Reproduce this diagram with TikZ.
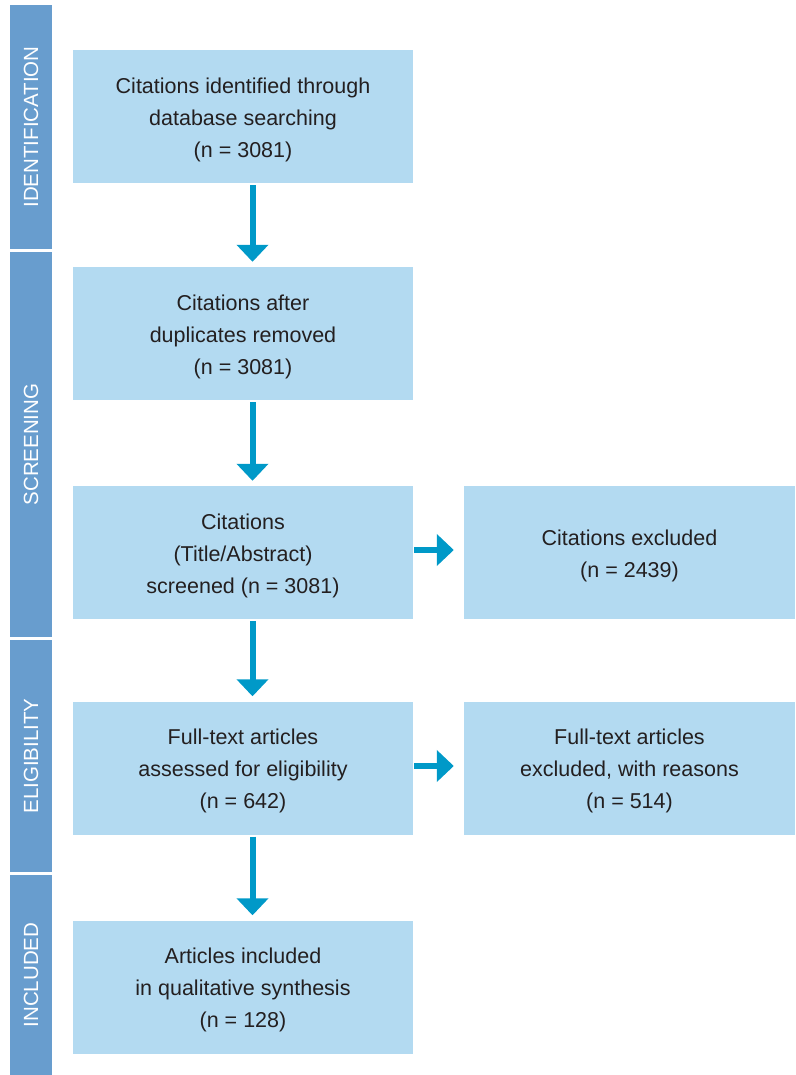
\documentclass[tikz,border=0pt]{standalone}
\usepackage{fontspec}
\setmainfont{Liberation Sans}
\usetikzlibrary{arrows.meta}
\definecolor{barblue}{RGB}{104,157,206}
\definecolor{boxblue}{RGB}{179,218,241}
\definecolor{arrblue}{RGB}{0,153,200}
\definecolor{txt}{RGB}{35,31,32}
\tikzset{
  stage/.style={fill=barblue, draw=none},
  stagelabel/.style={rotate=90, text=white, font=\fontsize{20.5}{24}\selectfont, inner sep=0pt},
  flowbox/.style={fill=boxblue, draw=none, inner sep=0pt, minimum width=340pt, minimum height=133pt},
  sidebox/.style={flowbox, minimum width=331pt},
  flowtext/.style={text=txt, align=center, inner sep=0pt, font=\fontsize{21.5}{32}\selectfont, yshift=-3pt},
  flowarrow/.style={draw=arrblue, line width=6pt, -{Triangle[width=31pt,length=17pt]}}
}
\begin{document}
\begin{tikzpicture}[x=1pt,y=-1pt]
\useasboundingbox (0,0) rectangle (795,1075);
% stage bars
\fill[stage] (10,5) rectangle (52,249);
\fill[stage] (10,252) rectangle (52,637);
\fill[stage] (10,640) rectangle (52,872);
\fill[stage] (10,875) rectangle (52,1075);
\node[stagelabel] (lid) at (31,127) {IDENTIFICATION};
\node[stagelabel] (lsc) at (31,444.5) {SCREENING};
\node[stagelabel] (lel) at (31,756) {ELIGIBILITY};
\node[stagelabel] (lin) at (31,975) {INCLUDED};
% boxes
\node[flowbox, label={[flowtext]center:Citations identified through\\database searching\\(n = 3081)}] (b1) at (243,116.5) {};
\node[flowbox, label={[flowtext]center:Citations after\\duplicates removed\\(n = 3081)}] (b2) at (243,333.5) {};
\node[flowbox, label={[flowtext]center:Citations\\(Title/Abstract)\\screened (n = 3081)}] (b3) at (243,552.5) {};
\node[flowbox, label={[flowtext]center:Full-text articles\\assessed for eligibility\\(n = 642)}] (b4) at (243,768) {};
\node[flowbox, label={[flowtext]center:Articles included\\in qualitative synthesis\\(n = 128)}] (b5) at (243,987) {};
\node[sidebox, label={[flowtext]center:Citations excluded\\(n = 2439)}] (r3) at (629.5,552.5) {};
\node[sidebox, label={[flowtext]center:Full-text articles\\excluded, with reasons\\(n = 514)}] (r4) at (629.5,768) {};
% arrows
\foreach \a/\b in {b1/b2,b2/b3,b3/b4,b4/b5}{
  \draw[flowarrow, shorten <=2pt, shorten >=5pt] ([xshift=9.5pt]\a.south) -- ([xshift=9.5pt]\b.north);
}
\draw[flowarrow, shorten <=1pt, shorten >=10pt] ([yshift=2.5pt]b3.east) -- ([yshift=2.5pt]r3.west);
\draw[flowarrow, shorten <=1pt, shorten >=10pt] ([yshift=2pt]b4.east) -- ([yshift=2pt]r4.west);
\end{tikzpicture}
\end{document}
